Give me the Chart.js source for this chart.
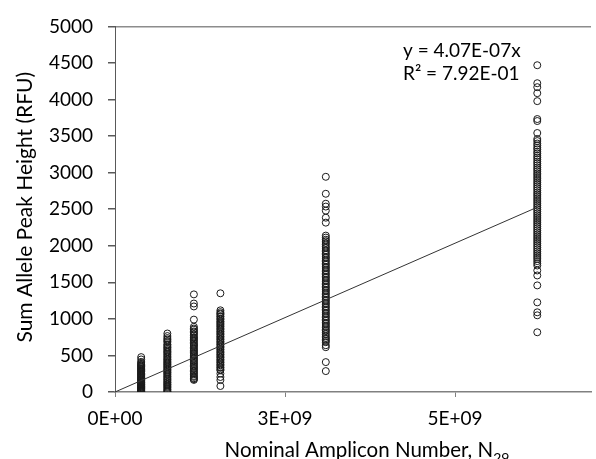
<!DOCTYPE html>
<html>
<head>
<meta charset="utf-8">
<script src="https://cdn.jsdelivr.net/npm/chart.js@4"></script>
<style>
  html, body { margin: 0; padding: 0; background: #fff; }
  #wrap { width: 596px; height: 459px; }
</style>
</head>
<body>
<div id="wrap"><canvas id="c" width="596" height="459"></canvas></div>
<script>
// amplicon number of each column of points
const columnX = [0.385e9, 0.77e9, 1.16e9, 1.55e9, 3.1e9, 6.21e9];

// sum allele peak heights (RFU), one list per column
const col1 = [477, 445, 412, 398, 381, 370, 362, 348, 340, 326, 315, 307, 294, 286, 277, 260, 252, 240, 233, 222, 208, 199, 188, 181, 172, 160, 151, 140, 133, 126, 114, 106, 99, 88, 80, 74, 65, 57, 51, 43, 33, 27, 19, 13, 6, 0];
const col2 = [800, 765, 738, 718, 698, 683, 652, 641, 618, 606, 588, 572, 553, 542, 522, 507, 488, 472, 452, 441, 423, 408, 394, 378, 366, 348, 337, 318, 306, 291, 274, 263, 246, 232, 213, 202, 183, 171, 156, 138, 129, 110, 101, 84, 70, 56, 38, 26, 9, 0];
const col3 = [1335, 1210, 1170, 990, 892, 868, 852, 828, 815, 792, 772, 748, 737, 716, 703, 678, 662, 643, 630, 607, 592, 570, 557, 538, 522, 503, 490, 468, 455, 432, 420, 398, 382, 360, 347, 328, 314, 292, 280, 258, 242, 220, 207, 188, 176, 165];
const col4 = [1350, 1117, 1092, 1073, 1062, 1038, 1027, 1003, 992, 968, 957, 938, 922, 903, 890, 868, 855, 832, 820, 798, 785, 762, 750, 727, 715, 692, 680, 657, 645, 622, 610, 587, 575, 552, 538, 517, 505, 482, 470, 447, 435, 412, 400, 377, 365, 342, 330, 308, 296, 252, 205, 163, 82];
const col5 = [2943, 2711, 2575, 2536, 2480, 2384, 2316, 2139, 2112, 2083, 2063, 2038, 2017, 1988, 1968, 1940, 1923, 1895, 1878, 1848, 1831, 1802, 1785, 1757, 1740, 1712, 1695, 1667, 1650, 1622, 1605, 1577, 1560, 1532, 1515, 1487, 1470, 1442, 1425, 1397, 1380, 1352, 1335, 1307, 1290, 1262, 1245, 1217, 1200, 1172, 1155, 1127, 1110, 1082, 1065, 1037, 1020, 992, 975, 947, 930, 902, 885, 857, 840, 817, 790, 763, 740, 722, 700, 681, 640, 613, 409, 286];
const col6 = [4469, 4223, 4169, 4087, 3978, 3733, 3706, 3542, 3460, 3432, 3398, 3372, 3340, 3318, 3285, 3262, 3230, 3205, 3178, 3150, 3125, 3098, 3070, 3046, 3020, 2992, 2968, 2940, 2915, 2888, 2862, 2836, 2810, 2784, 2758, 2730, 2705, 2680, 2652, 2626, 2600, 2574, 2548, 2522, 2496, 2470, 2444, 2418, 2392, 2366, 2340, 2314, 2288, 2262, 2236, 2210, 2184, 2158, 2132, 2106, 2080, 2054, 2028, 2002, 1976, 1950, 1924, 1898, 1872, 1846, 1820, 1790, 1760, 1730, 1662, 1594, 1458, 1226, 1090, 1049, 817];
const columns = [col1, col2, col3, col4, col5, col6];

// linear trend line through the origin (y = 4.07E-07x)
const trendX = [0, 6.21e9];
const trendY = [0, 2527];

const xTickValues = [0, 2.5e9, 5e9];
const xTickLabels = ['0E+00', '3E+09', '5E+09'];
const yTickStep = 500;

const points = [];
columns.forEach((col, i) => {
    col.forEach(v => points.push({x: columnX[i], y: v}));
});

const FONT = 'Lato, "Open Sans", sans-serif';

const textPlugin = {
    id: 'texts',
    afterDraw(chart) {
        const ctx = chart.ctx;
        const area = chart.chartArea;
        ctx.save();
        ctx.fillStyle = '#000';
        ctx.textBaseline = 'alphabetic';
        // trend equation
        ctx.font = '19px ' + FONT;
        ctx.textAlign = 'left';
        ctx.fillText('y = 4.07E-07x', 403, 57);
        ctx.fillText('R\u00B2 = 7.92E-01', 403, 80);
        // x axis title with subscript
        const main = 'Nominal Amplicon Number, N';
        const sub = '29';
        ctx.font = '20.5px ' + FONT;
        const w1 = ctx.measureText(main).width;
        ctx.font = '14px ' + FONT;
        const w2 = ctx.measureText(sub).width;
        const cx = (area.left + area.right) / 2 + 14;
        const x0 = cx - (w1 + w2) / 2;
        ctx.font = '20.5px ' + FONT;
        ctx.fillText(main, x0, 457);
        ctx.font = '14px ' + FONT;
        ctx.fillText(sub, x0 + w1, 463);
        // y axis title
        ctx.font = '21px ' + FONT;
        ctx.translate(32, (area.top + area.bottom) / 2 - 2);
        ctx.rotate(-Math.PI / 2);
        ctx.textAlign = 'center';
        ctx.fillText('Sum Allele Peak Height (RFU)', 0, 0);
        ctx.restore();
    }
};

new Chart(document.getElementById('c'), {
    type: 'scatter',
    data: {
        datasets: [{
            data: points,
            pointStyle: 'circle',
            pointRadius: 3.5,
            pointBorderWidth: 1,
            borderColor: '#1a1a1a',
            backgroundColor: 'rgba(0,0,0,0)',
            order: 2
        }, {
            data: trendX.map((x, i) => ({x: x, y: trendY[i]})),
            showLine: true,
            borderColor: '#333',
            borderWidth: 1,
            pointRadius: 0,
            order: 1
        }]
    },
    options: {
        responsive: false,
        animation: false,
        layout: { padding: { top: 25, right: 0, bottom: 0, left: 0 } },
        plugins: {
            legend: { display: false },
            tooltip: { enabled: false }
        },
        scales: {
            x: {
                type: 'linear',
                min: 0,
                max: 7e9,
                afterBuildTicks: scale => {
                    scale.ticks = xTickValues.map(v => ({value: v}));
                },
                afterFit: scale => { scale.height = 67; },
                ticks: {
                    padding: 10,
                    color: '#000',
                    font: { family: FONT, size: 19 },
                    maxRotation: 0,
                    callback: (v) => xTickLabels[xTickValues.indexOf(v)]
                },
                grid: {
                    drawOnChartArea: false,
                    tickLength: 5,
                    tickColor: '#808080'
                },
                border: { color: '#808080', width: 1.5 }
            },
            y: {
                min: 0,
                max: 5000,
                afterFit: scale => { scale.width = 115; },
                ticks: {
                    stepSize: yTickStep,
                    padding: 15,
                    color: '#000',
                    font: { family: FONT, size: 19 },
                    callback: v => String(v)
                },
                grid: {
                    color: c => c.tick && c.tick.value === 5000 ? '#8c8c8c' : 'rgba(0,0,0,0)',
                    tickColor: '#595959',
                    tickLength: 7,
                    lineWidth: 1.5
                },
                border: { color: '#595959', width: 1 }
            }
        }
    },
    plugins: [textPlugin]
});
</script>
</body>
</html>
